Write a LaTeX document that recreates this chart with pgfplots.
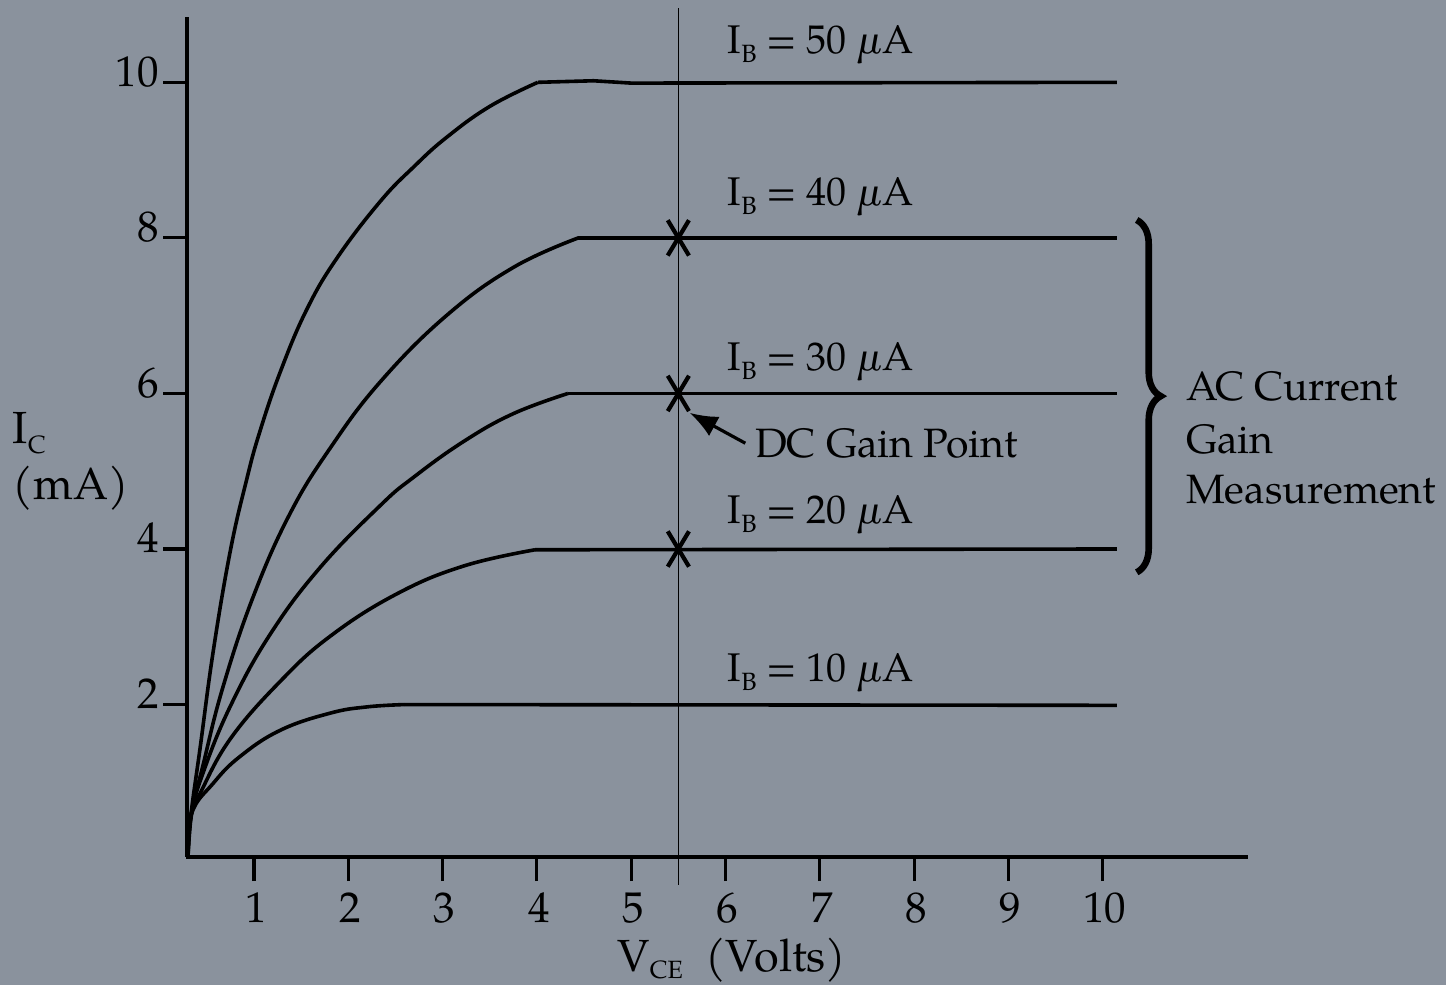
\documentclass[border=0pt]{standalone}
\usepackage{pgfplots}
\pgfplotsset{compat=1.18}
\usetikzlibrary{decorations.pathreplacing,arrows.meta}
\usepackage{fontspec}
\setmainfont{texgyrepagella}[Extension=.otf,UprightFont=*-regular,ItalicFont=*-italic,BoldFont=*-bold,BoldItalicFont=*-bolditalic]
\definecolor{bg}{RGB}{138,146,157}
\newcommand{\lab}{\fontsize{20}{24}\selectfont}
\newcommand{\axl}{\fontsize{22.5}{27}\selectfont}
\newcommand{\sub}[1]{\raisebox{-0.22em}{\fontsize{12.5}{13}\selectfont #1}}
\begin{document}
\begin{tikzpicture}
\path[use as bounding box, fill=bg] (0,0) rectangle (723pt,492.5pt);
\begin{axis}[
  at={(93.5pt,64pt)}, anchor=south west,
  scale only axis, width=530.5pt, height=420pt,
  xmin=0.29, xmax=11.54, ymin=0.04, ymax=10.84,
  axis x line=bottom, axis y line=left,
  axis line style={-, line width=1.8pt, black},
  xtick={1,2,3,4,5,6,7,8,9,10}, ytick={2,4,6,8,10},
  tick align=outside, major tick length=12pt,
  tick style={line width=1.6pt, black},
  /pgf/number format/assume math mode=true,
  ticklabel style={font=\fontsize{21.5}{25}\selectfont},
  xticklabel style={anchor=north, inner sep=0pt, yshift=-5.5pt, xshift=1pt},
  yticklabel style={anchor=base east, inner sep=0pt, yshift=-2pt, xshift=-2pt},
  clip=false,
]
% I_B = 50 uA
\addplot[black, line width=1.8pt, smooth, tension=0.7] coordinates {
 (0.30,0.02) (0.33,0.56) (0.43,1.45) (0.57,2.70) (0.75,3.98) (0.92,4.88) (1.06,5.50)
 (1.28,6.28) (1.56,7.08) (1.88,7.74) (2.34,8.47) (2.70,8.92) (3.04,9.29) (3.50,9.69) (4.01,10.0)};
\addplot[black, line width=1.8pt] coordinates {(4.01,10.0) (4.60,10.02) (5.00,9.99) (10.15,10.0)};
% I_B = 40 uA
\addplot[black, line width=1.8pt, smooth, tension=0.7] coordinates {
 (0.30,0.02) (0.33,0.56) (0.46,1.22) (0.67,2.22) (0.99,3.38) (1.38,4.45) (1.81,5.30)
 (2.34,6.15) (3.04,7.00) (3.75,7.62) (4.44,8.0)};
\addplot[black, line width=1.8pt] coordinates {(4.44,8.0) (10.15,8.0)};
% I_B = 30 uA
\addplot[black, line width=1.8pt, smooth, tension=0.7] coordinates {
 (0.30,0.02) (0.33,0.56) (0.46,1.12) (0.75,1.98) (1.17,2.90) (1.70,3.76) (2.34,4.56)
 (2.69,4.92) (3.22,5.38) (3.75,5.74) (4.33,6.0)};
\addplot[black, line width=1.8pt] coordinates {(4.33,6.0) (10.15,6.0)};
% I_B = 20 uA
\addplot[black, line width=1.8pt, smooth, tension=0.7] coordinates {
 (0.30,0.02) (0.34,0.60) (0.43,0.86) (0.75,1.56) (1.28,2.30) (1.81,2.88) (2.51,3.42)
 (3.22,3.78) (3.98,3.99)};
\addplot[black, line width=1.8pt] coordinates {(3.98,3.99) (10.15,4.0)};
% I_B = 10 uA
\addplot[black, line width=1.8pt, smooth, tension=0.7] coordinates {
 (0.30,0.02) (0.34,0.60) (0.57,0.99) (0.85,1.33) (1.28,1.67) (1.81,1.89) (2.20,1.97) (2.60,2.0)};
\addplot[black, line width=1.8pt] coordinates {(2.60,2.0) (10.15,1.99)};
% vertical line at V_CE = 5.5
\addplot[black, line width=0.8pt] coordinates {(5.5,-0.32) (5.5,10.95)};
% gain points
\addplot[only marks, mark=x, mark size=12.5pt, mark options={xscale=0.6, line width=2.1pt, black}]
  coordinates {(5.5,8) (5.5,6) (5.5,4)};
% labels
\node[anchor=base west, font=\lab, inner sep=0pt] at (axis cs:6.02,10.37) {I\sub{B} = 50 \textit{µ}A};
\node[anchor=base west, font=\lab, inner sep=0pt] at (axis cs:6.02,8.41) {I\sub{B} = 40 \textit{µ}A};
\node[anchor=base west, font=\lab, inner sep=0pt] at (axis cs:6.02,6.29) {I\sub{B} = 30 \textit{µ}A};
\node[anchor=base west, font=\lab, inner sep=0pt] at (axis cs:6.02,4.33) {I\sub{B} = 20 \textit{µ}A};
\node[anchor=base west, font=\lab, inner sep=0pt] at (axis cs:6.02,2.30) {I\sub{B} = 10 \textit{µ}A};
\node[anchor=base west, font=\fontsize{20.5}{24}\selectfont, inner sep=0pt] at (axis cs:6.31,5.18) {DC Gain Point};
\draw[-{Latex[length=14pt,width=11pt]}, line width=1.6pt, black] (axis cs:6.21,5.36) -- (axis cs:5.62,5.75);
\draw[decorate, decoration={brace, amplitude=12pt}, line width=3.3pt, black] (axis cs:10.36,8.23) -- (axis cs:10.36,3.70);
\node[anchor=base west, font=\fontsize{20.5}{24}\selectfont, inner sep=0pt] at (axis cs:10.88,5.91) {AC Current};
\node[anchor=base west, font=\fontsize{20.5}{24}\selectfont, inner sep=0pt] at (axis cs:10.88,5.23) {Gain};
\node[anchor=base west, font=\fontsize{20.5}{24}\selectfont, inner sep=0pt] at (axis cs:10.88,4.58) {Measurement};
% axis labels
\node[anchor=base west, font=\axl, inner sep=0pt] at (axis cs:-1.56,5.36) {I\sub{C}};
\node[anchor=base west, font=\axl, inner sep=0pt] at (axis cs:-1.56,4.63) {(mA)};
\node[anchor=base west, font=\axl, inner sep=0pt] at (axis cs:4.85,-1.43) {V\raisebox{-0.15em}{\fontsize{12.5}{13}\selectfont CE}\hspace{0.5em}(Volts)};
\end{axis}
\end{tikzpicture}
\end{document}
